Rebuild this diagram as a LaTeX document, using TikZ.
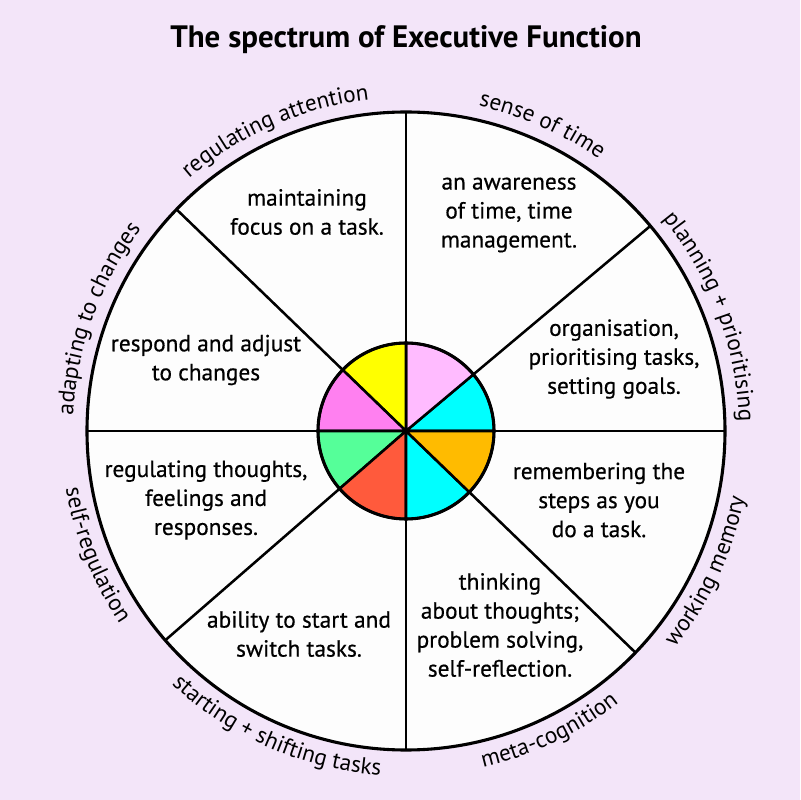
\documentclass[tikz,border=0pt]{standalone}
\usepackage{fontspec}
\setmainfont{PT Sans}
\newfontfamily\medfont{PT Sans}[FakeBold=0.5]
\usetikzlibrary{decorations.text}
\definecolor{bg}{HTML}{F3E5F9}
\definecolor{wheel}{HTML}{FDFDFD}
\definecolor{yelw}{HTML}{FFFF00}
\definecolor{magw}{HTML}{FF80F0}
\definecolor{pinkw}{HTML}{FFBBFF}
\definecolor{cyanw}{HTML}{00FFFF}
\definecolor{orgw}{HTML}{FFBB00}
\definecolor{redw}{HTML}{FF5A3C}
\definecolor{greenw}{HTML}{55FF99}
\newcommand\arcfont{\fontsize{16.5}{19}\selectfont}
\begin{document}
\begin{tikzpicture}[x=0.025cm, y=0.025cm, line join=round,
  txt/.style={align=center, font=\medfont\fontsize{16.6}{20.6}\selectfont},
  arcl/.style={decoration={text along path, text align=center, text={|\arcfont|#1}}, decorate}]
\fill[bg] (-406,-369) rectangle (394,431);
\useasboundingbox (-406,-369) rectangle (394,431);
\node[font=\bfseries\fontsize{22}{26}\selectfont] (T) at (0,391){The spectrum of Executive Function};

% wheel and spokes
\draw[line width=2.2pt, fill=wheel] (0,0) circle (319);
\foreach \a in {0,40,90,136,180,221,270,316}
  \draw[line width=1.8pt] (0,0) -- (\a:319);

% coloured centre
\foreach \s/\e/\c in {0/40/cyanw, 40/90/pinkw, 90/136/yelw, 136/180/magw, 180/221/greenw, 221/270/redw, 270/316/cyanw, 316/360/orgw}
  \draw[line width=1.8pt, fill=\c] (0,0) -- (\s:88) arc[start angle=\s, end angle=\e, radius=88] -- cycle;
\draw[line width=2.2pt] (0,0) circle (88);

\node[txt] (A1) at (-99,219){maintaining\\focus on a task.};
\node[txt] (A2) at (103,216){an awareness\\of time, time\\management.};
\node[txt] (A3) at (208,72){organisation,\\prioritising tasks,\\setting goals.};
\node[txt] (A4) at (193,-69){remembering the\\steps as you\\do a task.};
\node[txt] (A5) at (94,-194){thinking\\about thoughts;\\problem solving,\\self-reflection.};
\node[txt] (A6) at (-107,-203){ability to start and\\switch tasks.};
\node[txt] (A7) at (-200,-69){regulating thoughts,\\feelings and\\responses.};
\node[txt] (A8) at (-200,71){respond and adjust\\to changes};

% labels round the rim
\path[arcl={regulating attention}] (158.5:333) arc[start angle=158.5, end angle=68.5, radius=333];
\path[arcl={sense of time}] (111:333) arc[start angle=111, end angle=21, radius=333];
\path[arcl={planning + prioritising}] (65.6:333) arc[start angle=65.6, end angle=-24.4, radius=333];
\path[arcl={adapting to changes}] (205:333) arc[start angle=205, end angle=115, radius=333];
\path[arcl={working memory}] (-70:345) arc[start angle=-70, end angle=20, radius=345];
\path[arcl={meta-cognition}] (-109.5:345) arc[start angle=-109.5, end angle=-19.5, radius=345];
\path[arcl={starting + shifting tasks}] (201.5:345) arc[start angle=201.5, end angle=291.5, radius=345];
\path[arcl={self-regulation}] (156.8:345) arc[start angle=156.8, end angle=246.8, radius=345];
\end{tikzpicture}
\end{document}
